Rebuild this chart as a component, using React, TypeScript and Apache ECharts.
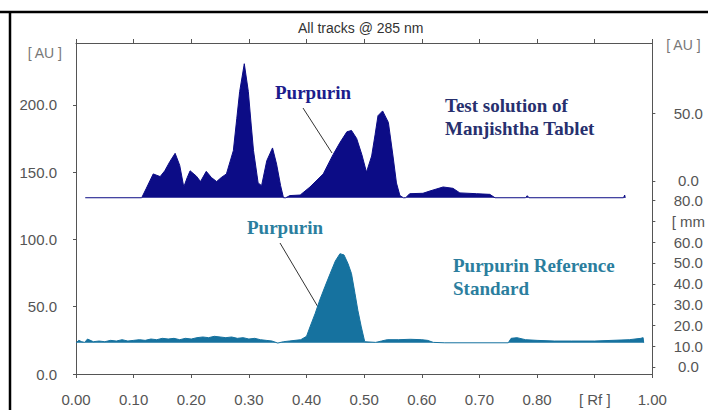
import React, { useEffect, useRef } from "react";
import * as echarts from "echarts";

const xTicks = [0, 0.1, 0.2, 0.3, 0.4, 0.5, 0.6, 0.7, 0.8, 0.9, 1.0];
const leftAxisLabels = [0, 50, 100, 150, 200];
const rightAuLabels = [0, 50];
const rightMmLabels = [0, 10, 20, 30, 40, 50, 60, 70, 80];

// Test solution of Manjishtha Tablet (Rf, AU on left scale)
const testTrack: [number, number][] = [
  [0.016, 131], [0.114, 131], [0.122, 138], [0.134, 148.7], [0.146, 146.7], [0.154, 151],
  [0.163, 158], [0.172, 164], [0.18, 155], [0.187, 139], [0.193, 146], [0.198, 151],
  [0.209, 147], [0.216, 143], [0.226, 150.6], [0.235, 146], [0.244, 143], [0.252, 146],
  [0.261, 148.7], [0.273, 166], [0.279, 190], [0.284, 210], [0.292, 230.6], [0.299, 210],
  [0.304, 185], [0.308, 166], [0.316, 142], [0.322, 140], [0.331, 158.5], [0.341, 168],
  [0.348, 156], [0.355, 140], [0.36, 131], [0.364, 131], [0.371, 132.6], [0.389, 133],
  [0.406, 139], [0.429, 148.7], [0.446, 163], [0.458, 172], [0.47, 180], [0.478, 181],
  [0.487, 175], [0.496, 163], [0.504, 150], [0.513, 162], [0.519, 178], [0.524, 192],
  [0.532, 195.5], [0.542, 187], [0.55, 162], [0.556, 142], [0.562, 132.6], [0.568, 131],
  [0.572, 131], [0.579, 134], [0.602, 134.3], [0.614, 136], [0.637, 139], [0.654, 138],
  [0.666, 134.6], [0.695, 134], [0.718, 133.5], [0.727, 131], [0.78, 131], [0.783, 132.5],
  [0.786, 131], [0.95, 131], [0.952, 133], [0.953, 131],
];
const testBaseline = 131;

// Purpurin Reference Standard (Rf, AU on left scale)
const refTrack: [number, number][] = [
  [0.0, 23.2], [0.005, 25], [0.01, 24], [0.015, 23.5], [0.02, 26], [0.03, 24], [0.04, 24.5],
  [0.05, 24], [0.06, 25], [0.07, 24.5], [0.08, 25.5], [0.09, 24.5], [0.1, 25], [0.11, 25.5],
  [0.12, 25], [0.13, 26], [0.14, 25.5], [0.15, 26.5], [0.16, 26], [0.17, 26.5], [0.18, 25.5],
  [0.19, 26.5], [0.2, 26], [0.21, 27], [0.22, 27.5], [0.23, 27], [0.24, 28], [0.25, 27.5],
  [0.26, 27], [0.27, 27.5], [0.28, 26.5], [0.29, 27], [0.3, 26], [0.31, 26.5], [0.32, 25.5],
  [0.33, 25], [0.34, 24.5], [0.35, 23], [0.36, 24], [0.37, 24.5], [0.38, 25], [0.39, 25.5],
  [0.4, 28], [0.406, 35], [0.415, 45], [0.423, 55], [0.432, 65], [0.441, 74.6], [0.45, 84],
  [0.458, 89.4], [0.465, 88.5], [0.472, 82], [0.478, 74.6], [0.484, 60], [0.489, 47.4],
  [0.495, 35], [0.501, 24], [0.52, 23.5], [0.53, 24.5], [0.54, 25.5], [0.56, 25.5],
  [0.58, 25.8], [0.6, 25.5], [0.61, 25], [0.62, 23.5], [0.64, 23.2], [0.75, 23.2],
  [0.755, 26.5], [0.765, 27], [0.78, 25.5], [0.8, 25], [0.83, 24.5], [0.86, 24.5],
  [0.9, 24.5], [0.93, 25], [0.96, 25.5], [0.98, 26.5], [0.984, 27], [0.985, 23.2],
];
const refBaseline = 23.2;

const SANS = "Liberation Sans, Arial, sans-serif";
const SERIF = "Liberation Serif, Times New Roman, serif";

export default function App() {
  const ref = useRef<HTMLDivElement>(null);
  useEffect(() => {
    document.body.style.margin = "0";
    const chart = echarts.init(ref.current!, null, { renderer: "svg" });
    const axisLine = { show: true, onZero: false, lineStyle: { color: "#555", width: 1 } };
    const labelStyle = { color: "#555", fontSize: 15, fontFamily: SANS };
    chart.setOption({
      animation: false,
      backgroundColor: "#fff",
      title: {
        text: "All tracks @ 285 nm",
        left: 298,
        top: 21,
        padding: 0,
        textStyle: { color: "#333", fontSize: 14, fontWeight: "normal", fontFamily: SANS },
      },
      grid: { left: 76, right: 55, top: 43, bottom: 36 },
      xAxis: [
        {
          type: "value",
          position: "bottom",
          min: 0,
          max: 1,
          interval: 0.1,
          axisLine,
          axisTick: { show: true, length: 4, lineStyle: { color: "#555" }, customValues: xTicks },
          axisLabel: {
            ...labelStyle,
            margin: 18,
            customValues: xTicks,
            formatter: (v: number) => (Math.abs(v - 0.9) < 1e-6 ? "[ Rf ]" : v.toFixed(2)),
          },
          splitLine: { show: false },
        },
        {
          type: "value",
          position: "top",
          min: 0,
          max: 1,
          interval: 0.1,
          axisLine,
          axisTick: { show: true, length: 4, lineStyle: { color: "#555" } },
          axisLabel: { show: false },
          splitLine: { show: false },
        },
      ],
      yAxis: [
        {
          type: "value",
          position: "left",
          min: 0,
          max: 246,
          axisLine,
          name: "[ AU ]",
          nameLocation: "end",
          nameGap: -10,
          nameTextStyle: {
            color: "#777",
            fontSize: 14,
            fontFamily: SANS,
            align: "right",
            verticalAlign: "middle",
            padding: [0, 14, 0, 0],
          },
          axisTick: { show: true, length: 3, lineStyle: { color: "#555" }, customValues: leftAxisLabels },
          axisLabel: {
            ...labelStyle,
            margin: 19,
            customValues: leftAxisLabels,
            formatter: (v: number) => v.toFixed(1),
          },
          splitLine: { show: false },
        },
        {
          type: "value",
          position: "right",
          offset: 0,
          min: -143,
          max: 102,
          axisLine: { show: false, onZero: false },
          name: "[ AU ]",
          nameLocation: "end",
          nameGap: -2,
          nameTextStyle: {
            color: "#777",
            fontSize: 14,
            fontFamily: SANS,
            align: "left",
            verticalAlign: "middle",
            padding: [0, 0, 0, 14],
          },
          axisTick: { show: true, length: 3, lineStyle: { color: "#555" }, customValues: rightAuLabels },
          axisLabel: {
            ...labelStyle,
            margin: 36,
            align: "center",
            customValues: rightAuLabels,
            formatter: (v: number) => v.toFixed(1),
          },
          splitLine: { show: false },
        },
        {
          type: "value",
          position: "right",
          offset: 0,
          min: -3.4,
          max: 155.8,
          axisLine,
          axisTick: { show: true, length: 3, lineStyle: { color: "#555" }, customValues: rightMmLabels },
          axisLabel: {
            ...labelStyle,
            margin: 36,
            align: "center",
            customValues: rightMmLabels,
            formatter: (v: number) => (v === 70 ? "[ mm" : v.toFixed(1)),
          },
          splitLine: { show: false },
        },
      ],
      series: [
        {
          name: "Test solution of Manjishtha Tablet",
          type: "line",
          xAxisIndex: 0,
          yAxisIndex: 0,
          data: testTrack,
          symbol: "none",
          smooth: false,
          lineStyle: { color: "#0c0c86", width: 1 },
          areaStyle: { color: "#0c0c86", opacity: 1, origin: testBaseline },
        },
        {
          name: "Purpurin Reference Standard",
          type: "line",
          xAxisIndex: 0,
          yAxisIndex: 0,
          data: refTrack,
          symbol: "none",
          smooth: false,
          lineStyle: { color: "#16729f", width: 1 },
          areaStyle: { color: "#16729f", opacity: 1, origin: refBaseline },
        },
      ],
      graphic: [
        { type: "line", shape: { x1: 0, y1: 12, x2: 708, y2: 12 }, style: { stroke: "#000", lineWidth: 2.5 } },
        { type: "line", shape: { x1: 10, y1: 11, x2: 10, y2: 410 }, style: { stroke: "#000", lineWidth: 2.5 } },
        { type: "line", shape: { x1: 303, y1: 108, x2: 332, y2: 153 }, style: { stroke: "#333", lineWidth: 1 } },
        { type: "line", shape: { x1: 280, y1: 243, x2: 318, y2: 307 }, style: { stroke: "#333", lineWidth: 1 } },
        {
          type: "text", x: 275, y: 92,
          style: { text: "Purpurin", fill: "#1c1c8c", fontSize: 19, fontWeight: "bold", fontFamily: SERIF, align: "left", verticalAlign: "middle" },
        },
        {
          type: "text", x: 445, y: 105,
          style: { text: "Test solution of", fill: "#27306e", fontSize: 19, fontWeight: "bold", fontFamily: SERIF, align: "left", verticalAlign: "middle" },
        },
        {
          type: "text", x: 445, y: 128,
          style: { text: "Manjishtha Tablet", fill: "#27306e", fontSize: 19, fontWeight: "bold", fontFamily: SERIF, align: "left", verticalAlign: "middle" },
        },
        {
          type: "text", x: 247, y: 227,
          style: { text: "Purpurin", fill: "#2b7e9e", fontSize: 19, fontWeight: "bold", fontFamily: SERIF, align: "left", verticalAlign: "middle" },
        },
        {
          type: "text", x: 453, y: 265,
          style: { text: "Purpurin Reference", fill: "#2b7e9e", fontSize: 19, fontWeight: "bold", fontFamily: SERIF, align: "left", verticalAlign: "middle" },
        },
        {
          type: "text", x: 453, y: 288,
          style: { text: "Standard", fill: "#2b7e9e", fontSize: 19, fontWeight: "bold", fontFamily: SERIF, align: "left", verticalAlign: "middle" },
        },
      ],
    });
    return () => chart.dispose();
  }, []);
  return (
    <div
      ref={ref}
      style={{ position: "fixed", left: 0, top: 0, width: 708, height: 410, background: "#fff" }}
    />
  );
}
